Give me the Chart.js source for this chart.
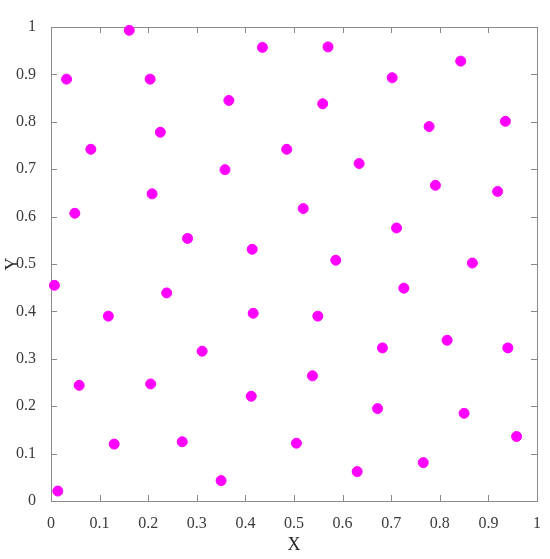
<!DOCTYPE html>
<html>
<head>
<meta charset="utf-8">
<script src="https://cdn.jsdelivr.net/npm/chart.js@4/dist/chart.umd.min.js"></script>
<style>
  html, body { margin: 0; padding: 0; background: #fff; }
  #wrap { width: 550px; height: 559px; }
</style>
</head>
<body>
<div id="wrap"><canvas id="c"></canvas></div>
<script>
// point coordinates
const xs = [
  0.161, 0.032, 0.204, 0.435, 0.366, 0.225, 0.082, 0.358, 0.208, 0.049, 0.281, 0.414,
  0.570, 0.843, 0.702, 0.559, 0.778, 0.935, 0.485, 0.634, 0.791, 0.919, 0.519, 0.711, 0.586, 0.867,
  0.007, 0.238, 0.118, 0.416, 0.311, 0.058, 0.205, 0.412, 0.130, 0.270, 0.350, 0.014,
  0.726, 0.549, 0.682, 0.815, 0.940, 0.538, 0.672, 0.850, 0.505, 0.958, 0.766, 0.630
];
const ys = [
  0.993, 0.890, 0.890, 0.957, 0.845, 0.778, 0.742, 0.699, 0.648, 0.607, 0.554, 0.531,
  0.958, 0.928, 0.893, 0.838, 0.790, 0.801, 0.742, 0.712, 0.666, 0.653, 0.617, 0.576, 0.508, 0.502,
  0.455, 0.439, 0.390, 0.396, 0.316, 0.244, 0.247, 0.221, 0.120, 0.125, 0.043, 0.021,
  0.449, 0.390, 0.323, 0.339, 0.323, 0.264, 0.195, 0.185, 0.122, 0.136, 0.081, 0.062
];
const tickValues = [0, 0.1, 0.2, 0.3, 0.4, 0.5, 0.6, 0.7, 0.8, 0.9, 1];

const points = xs.map((x, i) => ({ x: x, y: ys[i] }));

// box with inward ticks on all four sides
const boxPlugin = {
  id: 'box',
  beforeDatasetsDraw(chart) {
    const { ctx, chartArea: a, scales } = chart;
    const len = 6;
    ctx.save();
    ctx.strokeStyle = '#8a8a8a';
    ctx.lineWidth = 1;
    ctx.beginPath();
    tickValues.forEach(v => {
      const px = Math.round(scales.x.getPixelForValue(v)) + 0.5;
      const py = Math.round(scales.y.getPixelForValue(v)) + 0.5;
      ctx.moveTo(px, a.bottom); ctx.lineTo(px, a.bottom - len);
      ctx.moveTo(px, a.top); ctx.lineTo(px, a.top + len);
      ctx.moveTo(a.left, py); ctx.lineTo(a.left + len, py);
      ctx.moveTo(a.right, py); ctx.lineTo(a.right - len, py);
    });
    ctx.stroke();
    ctx.strokeRect(Math.round(a.left) + 0.5, Math.round(a.top) + 0.5,
      Math.round(a.right - a.left), Math.round(a.bottom - a.top));
    ctx.restore();
  }
};

const tickFont = { family: '"Liberation Serif", "DejaVu Serif", serif', size: 16 };
const titleFont = { family: '"Liberation Serif", "DejaVu Serif", serif', size: 18 };

new Chart(document.getElementById('c'), {
  type: 'scatter',
  data: {
    datasets: [{
      data: points,
      backgroundColor: '#ff00ff',
      borderColor: '#ff00ff',
      pointRadius: 5,
      pointHoverRadius: 5,
      clip: false
    }]
  },
  options: {
    responsive: true,
    maintainAspectRatio: false,
    animation: false,
    layout: { padding: { top: 27, right: 13, left: 0, bottom: 0 } },
    plugins: {
      legend: { display: false },
      tooltip: { enabled: false }
    },
    scales: {
      x: {
        type: 'linear',
        min: 0,
        max: 1,
        afterFit: s => { s.height = 58; },
        afterBuildTicks: s => { s.ticks = tickValues.map(v => ({ value: v })); },
        grid: { display: false },
        border: { display: false },
        ticks: {
          color: '#3a3a3a',
          font: tickFont,
          padding: 5,
          maxRotation: 0,
          callback: v => String(+v.toFixed(1))
        },
        title: { display: true, text: 'X', color: '#222', font: titleFont, padding: { top: 0, bottom: 3 } }
      },
      y: {
        type: 'linear',
        min: 0,
        max: 1,
        afterFit: s => { s.width = 51; },
        afterBuildTicks: s => { s.ticks = tickValues.map(v => ({ value: v })); },
        grid: { display: false },
        border: { display: false },
        ticks: {
          color: '#3a3a3a',
          font: tickFont,
          padding: 7,
          callback: v => String(+v.toFixed(1))
        },
        title: { display: true, text: 'Y', color: '#222', font: titleFont, padding: { top: 2, bottom: 0 } }
      }
    }
  },
  plugins: [boxPlugin]
});
</script>
</body>
</html>
